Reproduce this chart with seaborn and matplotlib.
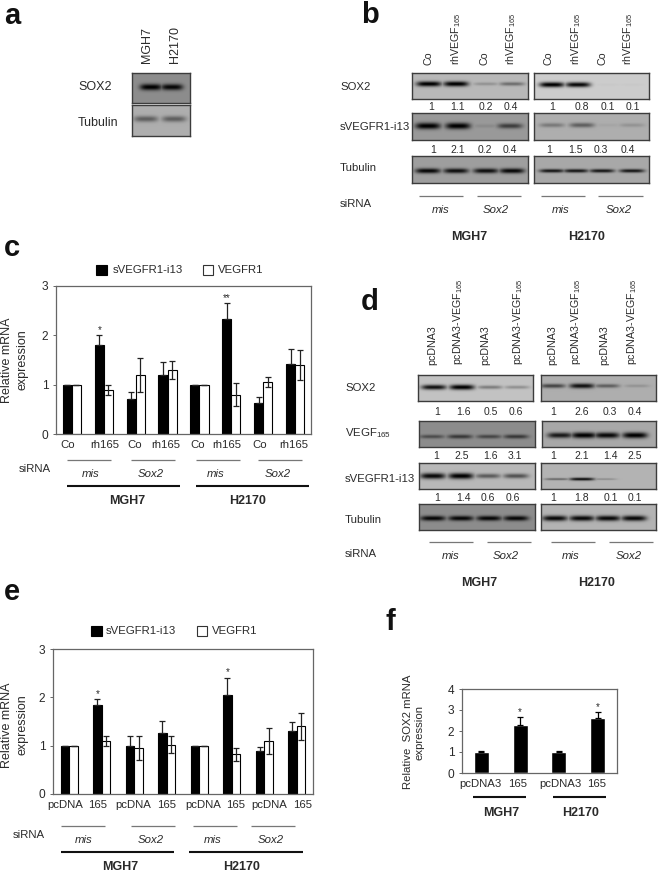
import numpy as np
import pandas as pd
import matplotlib
matplotlib.use('Agg')
import matplotlib.pyplot as plt
from matplotlib.patches import Rectangle
import seaborn as sns

W, H = 660, 874
sns.set_theme(style='white')
plt.rcParams['font.family'] = ['Liberation Sans', 'DejaVu Sans']
plt.rcParams['mathtext.fontset'] = 'custom'
plt.rcParams['mathtext.rm'] = 'Liberation Sans'
TXT = '#2a2a2a'

# chart data
series_names = ['sVEGFR1-i13', 'VEGFR1']
c_labels = ['Co', 'rh165', 'Co', 'rh165', 'Co', 'rh165', 'Co', 'rh165']
c_black = [1, 1.8, 0.7, 1.2, 1, 2.33, 0.63, 1.41]
c_white = [1, 0.9, 1.2, 1.3, 1, 0.8, 1.05, 1.4]
c_black_err = [0, 0.2, 0.15, 0.25, 0, 0.32, 0.13, 0.32]
c_white_err = [0, 0.1, 0.35, 0.18, 0, 0.24, 0.1, 0.3]
e_labels = ['pcDNA', '165', 'pcDNA', '165', 'pcDNA', '165', 'pcDNA', '165']
e_black = [1, 1.85, 1, 1.27, 1, 2.04, 0.9, 1.3]
e_white = [1, 1.1, 0.95, 1.02, 1, 0.82, 1.1, 1.4]
e_black_err = [0, 0.12, 0.2, 0.24, 0, 0.37, 0.07, 0.18]
e_white_err = [0, 0.1, 0.25, 0.18, 0, 0.13, 0.27, 0.28]
f_labels = ['pcDNA3', '165', 'pcDNA3', '165']
f_values = [1, 2.3, 1, 2.6]
f_err = [0.03, 0.35, 0.03, 0.3]

# band strength per lane on the blots
a_sox2 = [1, 0.95]
a_tub = [0.45, 0.45]
b_sox2_l = [1, 1, 0.2, 0.4]
b_sox2_r = [1, 0.95, 0.02, 0.02]
b_sv_l = [1, 1, 0.1, 0.6]
b_sv_r = [0.3, 0.45, 0.05, 0.15]
b_tub_l = [0.95, 0.9, 0.9, 0.95]
b_tub_r = [0.85, 0.85, 0.85, 0.85]
d_sox2_l = [0.9, 1, 0.35, 0.25]
d_sox2_r = [0.6, 0.9, 0.45, 0.15]
d_vegf_l = [0.45, 0.6, 0.5, 0.6]
d_vegf_r = [0.85, 1, 0.95, 1]
d_sv_l = [0.95, 1, 0.5, 0.55]
d_sv_r = [0.4, 0.9, 0.2, 0]
d_tub_l = [0.95, 0.95, 0.95, 0.95]
d_tub_r = [0.95, 0.95, 0.95, 0.95]

# quantification numbers under the blots
b_row1 = ['1', '1.1', '0.2', '0.4', '1', '0.8', '0.1', '0.1']
b_row2 = ['1', '2.1', '0.2', '0.4', '1', '1.5', '0.3', '0.4']
d_row1 = ['1', '1.6', '0.5', '0.6', '1', '2.6', '0.3', '0.4']
d_row2 = ['1', '2.5', '1.6', '3.1', '1', '2.1', '1.4', '2.5']
d_row3 = ['1', '1.4', '0.6', '0.6', '1', '1.8', '0.1', '0.1']

fig = plt.figure(figsize=(W / 100, H / 100), dpi=100)
bg = fig.add_axes([0, 0, 1, 1])
bg.set_xlim(0, W)
bg.set_ylim(H, 0)
bg.axis('off')


def sub_axes(x0, x1, y0, y1):
    return fig.add_axes([x0 / W, 1 - y1 / H, (x1 - x0) / W, (y1 - y0) / H])


def txt(x, y, s, size=8.2, ha='center', **kw):
    kw.setdefault('color', TXT)
    bg.text(x, y, s, fontsize=size, ha=ha, va='center', **kw)


def rule(x0, x1, y, lw=0.9, color='#777777'):
    bg.plot([x0, x1], [y, y], color=color, lw=lw, solid_capstyle='butt')


def blot(x0, x1, y0, y1, level, lanes, strength, yfrac=0.5, hw=12.5, sy=2.6):
    nx, ny = int(x1 - x0), int(y1 - y0)
    xx, yy = np.meshgrid(np.arange(nx) + x0 + 0.5, np.arange(ny) + 0.5)
    dark = np.zeros((ny, nx))
    for lane, s in zip(lanes, strength):
        prof = np.exp(-((xx - lane) / hw) ** 4) * np.exp(-((yy - ny * yfrac) / (sy * (0.55 + 0.45 * s))) ** 2)
        dark = np.maximum(dark, s * prof)
    img = level * (1 - dark)
    ax = sub_axes(x0, x1, y0, y1)
    sns.heatmap(img, ax=ax, cmap='gray', vmin=0, vmax=1, cbar=False, xticklabels=False, yticklabels=False)
    for sp in ax.spines.values():
        sp.set_visible(True)
        sp.set_color('#3c3c3c')
        sp.set_linewidth(1.0)


def bars(box, labels, label_px, ymax, black, white, black_err, white_err, width, stars):
    x0, x1, y0, y1 = box
    ax = sub_axes(x0, x1, y0, y1)
    n = len(labels)
    if white is None:
        df = pd.DataFrame({'lane': range(n), 'value': black})
        sns.barplot(data=df, x='lane', y='value', color='black', width=width, errorbar=None,
                    saturation=1, ax=ax)
        rects = list(ax.patches)
        for r, e in zip(rects, black_err):
            cx = r.get_x() + r.get_width() / 2
            ax.errorbar(cx, r.get_height(), yerr=[[0], [e]], color='black', lw=0.9, capsize=2.5, capthick=0.9)
        tops = list(zip(rects, black_err))
    else:
        df = pd.DataFrame({'lane': list(range(n)) * 2, 'value': black + white,
                           'series': [series_names[0]] * n + [series_names[1]] * n})
        sns.barplot(data=df, x='lane', y='value', hue='series', palette=['black', 'white'], width=width,
                    edgecolor='black', linewidth=0.8, errorbar=None, saturation=1, legend=False, ax=ax)
        rects = [p for p in ax.patches if p.get_height() > 0]
        rb, rw = rects[:n], rects[n:]
        for r, e in zip(rb, black_err):
            cx = r.get_x() + r.get_width() / 2
            ax.errorbar(cx, r.get_height(), yerr=[[0], [e]], color='#222222', lw=0.9, capsize=2.5, capthick=0.9)
        for r, e in zip(rw, white_err):
            cx = r.get_x() + r.get_width() / 2
            ax.errorbar(cx, r.get_height(), yerr=e, color='#222222', lw=0.9, capsize=2.5, capthick=0.9)
        tops = list(zip(rb, black_err))
    for idx, mark in stars.items():
        r, e = tops[idx]
        ax.text(r.get_x() + r.get_width() / 2, r.get_height() + e, mark, fontsize=7,
                ha='center', va='bottom', color=TXT)
    ax.set_xlim(-0.5, n - 0.5)
    ax.set_ylim(0, ymax)
    ax.set_yticks(range(ymax + 1))
    ax.set_xticks([(p - x0) / (x1 - x0) * n - 0.5 for p in label_px])
    ax.set_xticklabels(labels, fontsize=8.2, color=TXT)
    ax.tick_params(axis='y', length=2.5, width=0.7, color='#666666', labelsize=8.6, labelcolor=TXT, pad=3, left=True)
    ax.tick_params(axis='x', length=0, pad=4)
    ax.set_xlabel('')
    ax.set_ylabel('')
    for sp in ax.spines.values():
        sp.set_visible(True)
        sp.set_color('#666666')
        sp.set_linewidth(0.9)
    return ax


def legend(y, sq1, t1, sq2, t2):
    bg.add_patch(Rectangle((sq1, y - 5), 11, 10, fc='black', ec='black', lw=0.8))
    txt(t1, y, series_names[0], ha='left')
    bg.add_patch(Rectangle((sq2, y - 5), 10, 10, fc='white', ec='#333333', lw=0.8))
    txt(t2, y, series_names[1], ha='left')


# panel letters
for x, y, s in [(4, 24, 'a'), (361, 23, 'b'), (4, 256, 'c'), (361, 310, 'd'), (4, 600, 'e'), (386, 630, 'f')]:
    bg.text(x, y, s, fontsize=21, fontweight='bold', color='#111111', ha='left', va='baseline')

# panel a
bg.text(147, 63, 'MGH7', fontsize=9, rotation=90, ha='center', va='bottom', color=TXT)
bg.text(175, 63, 'H2170', fontsize=9, rotation=90, ha='center', va='bottom', color=TXT)
txt(78, 87, 'SOX2', size=9, ha='left')
txt(78, 123, 'Tubulin', size=9, ha='left')
blot(132, 190, 73, 103, 0.55, [151, 172], a_sox2, yfrac=0.47, hw=11, sy=3.2)
blot(132, 190, 105, 136, 0.68, [146, 174], a_tub, yfrac=0.45, hw=12, sy=4)

# panel b
b_lanes_l = [429, 456, 486, 512]
b_lanes_r = [552, 582, 608, 632]
b_text_x = [429, 456, 484, 511, 548, 576, 603, 628]
for i, x in enumerate(b_text_x):
    s = 'Co' if i % 2 == 0 else r'rhVEGF$_{\mathregular{165}}$'
    bg.text(x, 65, s, fontsize=7.7, rotation=90, ha='center', va='bottom', color=TXT)
blot(412, 528, 73, 99, 0.72, b_lanes_l, b_sox2_l, yfrac=0.42)
blot(534, 649, 73, 99, 0.8, [552, 578, 608, 632], b_sox2_r, yfrac=0.45)
blot(412, 528, 113, 140, 0.6, [428, 458, 486, 510], b_sv_l, yfrac=0.48, sy=3.2)
blot(534, 649, 113, 140, 0.68, b_lanes_r, b_sv_r, yfrac=0.45, sy=3.2)
blot(412, 528, 156, 183, 0.62, [428, 456, 486, 512], b_tub_l, yfrac=0.55)
blot(534, 649, 156, 183, 0.66, [552, 576, 602, 632], b_tub_r, yfrac=0.55, sy=2)
for x, s in zip([431, 458, 486, 511, 552, 582, 608, 633], b_row1):
    txt(x, 107, s, size=7.5)
for x, s in zip([433, 458, 485, 510, 549, 575, 601, 628], b_row2):
    txt(x, 150, s, size=7.5)
for y, s in [(87, 'SOX2'), (127, 'sVEGFR1-i13'), (168, 'Tubulin'), (204, 'siRNA')]:
    txt(340, y, s, ha='left')
for a, b in [(419, 463), (477, 521), (541, 585), (598, 643)]:
    rule(a, b, 196)
for x, s in [(441, 'mis'), (496, 'Sox2'), (561, 'mis'), (619, 'Sox2')]:
    txt(x, 210, s, style='italic')
txt(469, 237, 'MGH7', size=9, fontweight='bold')
txt(587, 237, 'H2170', size=9, fontweight='bold')

# panel c
bars((56, 311, 286, 434), c_labels, [68, 105, 135, 166, 198, 227, 260, 294], 3,
     c_black, c_white, c_black_err, c_white_err, 0.57, {1: '*', 5: '**'})
legend(270, 96, 113, 203, 218)
txt(15, 360, 'Relative mRNA\nexpression', size=9, rotation=90, linespacing=1.35)
txt(35, 469, 'siRNA')
for a, b in [(67, 111), (131, 175), (196, 240), (258, 302)]:
    rule(a, b, 460)
for x, s in [(91, 'mis'), (151, 'Sox2'), (216, 'mis'), (278, 'Sox2')]:
    txt(x, 474, s, style='italic')
rule(67, 180, 486, lw=1.5, color='#111111')
rule(196, 309, 486, lw=1.5, color='#111111')
txt(127, 501, 'MGH7', size=9, fontweight='bold')
txt(248, 501, 'H2170', size=9, fontweight='bold')

# panel d
d_text_x = [432, 458, 485, 518, 552, 576, 604, 632]
for i, x in enumerate(d_text_x):
    s = 'pcDNA3' if i % 2 == 0 else r'pcDNA3-VEGF$_{\mathregular{165}}$'
    bg.text(x, 365, s, fontsize=7.7, rotation=90, ha='center', va='bottom', color=TXT)
blot(418, 533, 375, 401, 0.76, [434, 462, 490, 517], d_sox2_l, yfrac=0.47)
blot(541, 656, 375, 401, 0.68, [553, 582, 607, 637], d_sox2_r, yfrac=0.42)
blot(419, 535, 421, 447, 0.55, [432, 460, 489, 516], d_vegf_l, yfrac=0.6)
blot(542, 656, 421, 447, 0.66, [560, 584, 607, 635], d_vegf_r, yfrac=0.55, sy=3)
blot(419, 535, 463, 489, 0.72, [433, 461, 488, 516], d_sv_l, yfrac=0.5, sy=3)
blot(541, 656, 463, 489, 0.7, [557, 582, 604, 637], d_sv_r, yfrac=0.62, sy=1.6)
blot(419, 535, 504, 530, 0.55, [433, 461, 489, 516], d_tub_l, yfrac=0.55, sy=2.6)
blot(541, 656, 504, 530, 0.7, [555, 582, 608, 634], d_tub_r, yfrac=0.55, sy=2.8)
for x, s in zip([437, 463, 491, 516, 553, 582, 610, 635], d_row1):
    txt(x, 412, s, size=7.5)
for x, s in zip([436, 462, 490, 515, 553, 582, 610, 635], d_row2):
    txt(x, 456, s, size=7.5)
for x, s in zip([437, 463, 488, 513, 553, 582, 611, 635], d_row3):
    txt(x, 498, s, size=7.5)
for y, s in [(388, 'SOX2'), (479, 'sVEGFR1-i13'), (520, 'Tubulin'), (554, 'siRNA')]:
    txt(345, y, s, ha='left')
txt(345, 433, r'VEGF$_{\mathregular{165}}$', ha='left')
for a, b in [(429, 473), (487, 531), (551, 595), (609, 653)]:
    rule(a, b, 542)
for x, s in [(451, 'mis'), (506, 'Sox2'), (571, 'mis'), (629, 'Sox2')]:
    txt(x, 556, s, style='italic')
txt(479, 583, 'MGH7', size=9, fontweight='bold')
txt(597, 583, 'H2170', size=9, fontweight='bold')

# panel e
bars((53, 313, 649, 794), e_labels, [65, 98, 133, 167, 203, 236, 269, 303], 3,
     e_black, e_white, e_black_err, e_white_err, 0.53, {1: '*', 5: '*'})
legend(631, 91, 106, 197, 212)
txt(15, 725, 'Relative mRNA\nexpression', size=9, rotation=90, linespacing=1.35)
txt(29, 835, 'siRNA')
for a, b in [(61, 105), (131, 175), (193, 237), (251, 295)]:
    rule(a, b, 826)
for x, s in [(84, 'mis'), (151, 'Sox2'), (213, 'mis'), (271, 'Sox2')]:
    txt(x, 840, s, style='italic')
rule(61, 174, 852, lw=1.5, color='#111111')
rule(189, 303, 852, lw=1.5, color='#111111')
txt(120, 867, 'MGH7', size=9, fontweight='bold')
txt(242, 867, 'H2170', size=9, fontweight='bold')

# panel f
bars((462, 617, 689, 773), f_labels, [480, 518, 560, 597], 4,
     f_values, None, f_err, None, 0.39, {1: '*', 3: '*'})
txt(414, 732, 'Relative  SOX2 mRNA\nexpression', rotation=90, linespacing=1.15)
rule(473, 526, 797, lw=1.5, color='#111111')
rule(553, 606, 797, lw=1.5, color='#111111')
txt(501, 813, 'MGH7', size=9, fontweight='bold')
txt(581, 813, 'H2170', size=9, fontweight='bold')

bg.set_xlim(0, W)
bg.set_ylim(H, 0)
fig.savefig('out.png', dpi=100)
